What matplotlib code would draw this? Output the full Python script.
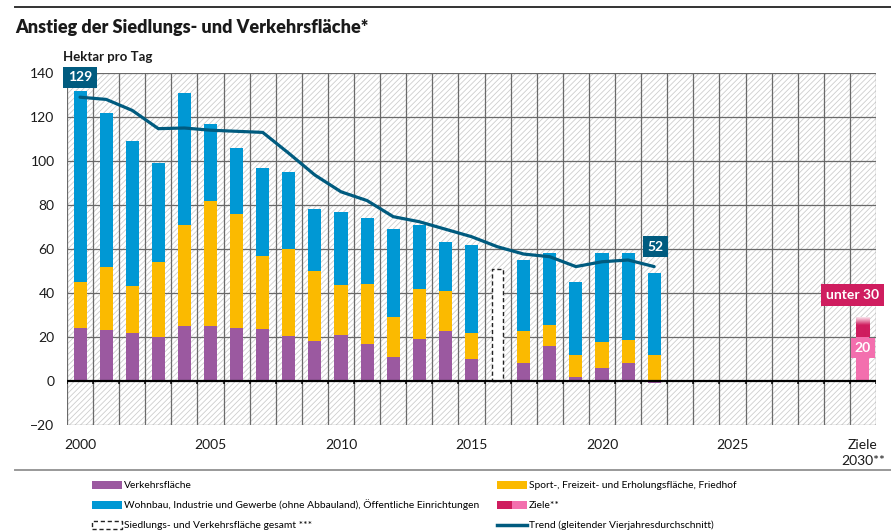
import matplotlib
matplotlib.use("Agg")
import matplotlib.pyplot as plt
import numpy as np
from matplotlib.colors import LinearSegmentedColormap
from matplotlib.lines import Line2D
from matplotlib.patches import Rectangle

plt.rcParams["font.family"] = ["Lato", "DejaVu Sans"]
plt.rcParams["hatch.linewidth"] = 0.6

YEARS = list(range(2000, 2023))
# Hektar pro Tag, stacked segments (2016: only total known)
VERKEHR = [24, 23, 22, 20, 25, 25, 24, 23.5, 20.5, 18, 21, 17, 11, 19, 22.7, 10, np.nan, 8, 16, 2, 6, 8, -1]
SPORT = [21, 29, 21, 34, 46, 57, 52, 33.5, 39.5, 32, 22.7, 27, 18, 23, 18.3, 11.7, np.nan, 14.7, 9.6, 9.8, 11.7, 10.8, 12]
WOHNBAU = [87, 70, 66, 45, 60, 35, 30, 40, 35, 28, 33.3, 30, 40, 29, 22, 40.3, np.nan, 32.3, 32.4, 33.2, 40.3, 39.2, 37]
GESAMT_2016 = 51
TREND = [129, 128, 123, 114.7, 115, 114, 113.5, 113, 103.5, 93.6, 86, 82, 74.7, 72.4, 69, 65.6, 61, 57.7, 56.5, 52, 54.2, 55, 52]
ZIEL_UNTER = 30
ZIEL_20 = 20
TICK_LABELS = ["2000", "2005", "2010", "2015", "2020", "2025", "Ziele\n2030**"]

C_VERKEHR = "#9b59a0"
C_SPORT = "#fbba00"
C_WOHN = "#0098d4"
C_TREND = "#005b7f"
C_ZIEL_DARK = "#cf1d5f"
C_ZIEL_LIGHT = "#f36fae"
C_GRID = "#6a6a6a"

fig = plt.figure(figsize=(8.91, 5.32), dpi=100)
ax = fig.add_axes([67 / 891, 1 - 425 / 532, 809 / 891, 352 / 532])
n_slots = 31

# hatched background
ax.add_patch(Rectangle((-0.5, -20), n_slots, 160, facecolor="white", edgecolor="#cdcdcd",
                       hatch="//////", lw=0, zorder=0))
bounds = np.arange(-0.5, n_slots, 1.0)
ax.vlines(bounds, -20, 140, color=C_GRID, lw=0.9, zorder=1)
ax.hlines([y for y in range(-20, 141, 20) if y != 0], -0.5, n_slots - 0.5, color=C_GRID, lw=0.9, zorder=1)

x = np.array(YEARS) - 2000
verkehr = np.array(VERKEHR, dtype=float)
sport = np.array(SPORT, dtype=float)
wohn = np.array(WOHNBAU, dtype=float)
sport_bottom = np.maximum(verkehr, 0)
w = 0.5
ax.bar(x, verkehr, w, color=C_VERKEHR, zorder=3)
ax.bar(x, sport, w, bottom=sport_bottom, color=C_SPORT, zorder=3)
ax.bar(x, wohn, w, bottom=sport_bottom + sport, color=C_WOHN, zorder=3)

# 2016 total only
ax.bar(2016 - 2000, GESAMT_2016, 0.44, facecolor="white", edgecolor="#222222", lw=1.0,
       linestyle=(0, (3, 2)), zorder=3)

# Ziele 2030
xz = 30
ax.bar(xz, ZIEL_20, w, color=C_ZIEL_LIGHT, zorder=3)
grad = LinearSegmentedColormap.from_list("zg", [(0, "#fbe3ec"), (0.4, C_ZIEL_DARK), (1, C_ZIEL_DARK)])
ax.imshow(np.linspace(0, 1, 60).reshape(-1, 1), cmap=grad, aspect="auto", origin="upper",
          extent=(xz - w / 2, xz + w / 2, ZIEL_20, ZIEL_UNTER - 1), zorder=3, interpolation="bilinear")
ax.set_xlim(-0.5, n_slots - 0.5)
ax.set_ylim(-20, 140)

# zero line with small ticks
ax.hlines(0, -0.5, n_slots - 0.5, color="black", lw=1.6, zorder=4)
ax.vlines(bounds, -1.4, 0, color="black", lw=1.1, zorder=4)

# trend
ax.plot(x, TREND, color=C_TREND, lw=2.3, zorder=5, solid_capstyle="round")

box = dict(boxstyle="square,pad=0.32", lw=0)
ax.text(0, 138, f"{TREND[0]:.0f}", color="white", fontsize=10, fontweight="bold", ha="center",
        va="center", bbox=dict(box, fc=C_TREND), zorder=6)
ax.text(22.05, 61, f"{TREND[-1]:.0f}", color="white", fontsize=10, fontweight="bold", ha="center",
        va="center", bbox=dict(box, fc=C_TREND), zorder=6)
ax.text(29.6, 39, f"unter {ZIEL_UNTER}", color="white", fontsize=10, fontweight="bold", ha="center",
        va="center", bbox=dict(boxstyle="square,pad=0.35", lw=0, fc=C_ZIEL_DARK), zorder=6)
ax.text(xz, 15, f"{ZIEL_20}", color="white", fontsize=10, fontweight="bold", ha="center",
        va="center", bbox=dict(boxstyle="square,pad=0.3", lw=0, fc=C_ZIEL_LIGHT), zorder=6)

for s in ax.spines.values():
    s.set_visible(False)
ax.set_yticks(range(-20, 141, 20))
ax.set_xticks([0, 5, 10, 15, 20, 25, 30])
ax.set_xticklabels(TICK_LABELS, linespacing=1.45)
ax.tick_params(length=0, labelsize=10, colors="#1a1a1a")
ax.tick_params(axis="y", pad=9)
ax.tick_params(axis="x", pad=10)

# header
fig.add_artist(Line2D([15 / 891, 1], [1 - 7 / 532] * 2, color="#333333", lw=1.4))
fig.text(15 / 891, 1 - 27 / 532, "Anstieg der Siedlungs- und Verkehrsfläche*", fontsize=13,
         fontweight="heavy", va="center", color="#1a1a1a")
fig.text(63 / 891, 1 - 57 / 532, "Hektar pro Tag", fontsize=9.5, fontweight="bold", va="center",
         color="#1a1a1a")
fig.add_artist(Line2D([15 / 891, 1], [1 - 470 / 532] * 2, color="#999999", lw=1.4))


# legend
def fx(px):
    return px / 891


def fy(py):
    return 1 - py / 532


def legend_patch(x0, yc, color, edge=None, ls="solid"):
    fig.add_artist(Rectangle((fx(x0), fy(yc + 4)), 30 / 891, 8 / 532, transform=fig.transFigure,
                             facecolor=color, edgecolor=edge or color, lw=1 if edge else 0, linestyle=ls))


rows = [485, 505, 525]
lsize = 7.4
legend_patch(92, rows[0], C_VERKEHR)
fig.text(fx(124), fy(rows[0]), "Verkehrsfläche", fontsize=lsize, va="center")
legend_patch(92, rows[1], C_WOHN)
fig.text(fx(124), fy(rows[1]), "Wohnbau, Industrie und Gewerbe (ohne Abbauland), Öffentliche Einrichtungen",
         fontsize=lsize, va="center")
legend_patch(92, rows[2], "white", edge="#222222", ls=(0, (3, 2)))
fig.text(fx(124), fy(rows[2]), "Siedlungs- und Verkehrsfläche gesamt ***", fontsize=lsize, va="center")

legend_patch(497, rows[0], C_SPORT)
fig.text(fx(529), fy(rows[0]), "Sport-, Freizeit- und Erholungsfläche, Friedhof", fontsize=lsize, va="center")
fig.add_artist(Rectangle((fx(497), fy(rows[1] + 4)), 15 / 891, 8 / 532, transform=fig.transFigure,
                         facecolor=C_ZIEL_DARK, lw=0))
fig.add_artist(Rectangle((fx(512), fy(rows[1] + 4)), 15 / 891, 8 / 532, transform=fig.transFigure,
                         facecolor=C_ZIEL_LIGHT, lw=0))
fig.text(fx(529), fy(rows[1]), "Ziele**", fontsize=lsize, va="center")
fig.add_artist(Line2D([fx(497), fx(527)], [fy(rows[2])] * 2, color=C_TREND, lw=2.5))
fig.text(fx(529), fy(rows[2]), "Trend (gleitender Vierjahresdurchschnitt)", fontsize=lsize, va="center")

fig.savefig("out.png", dpi=100)
